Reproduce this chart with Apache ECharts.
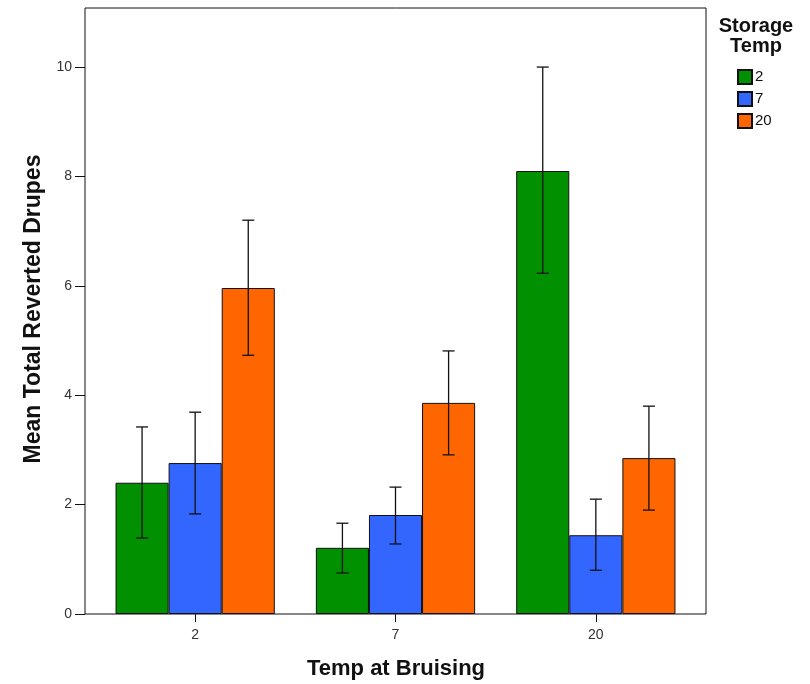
<!DOCTYPE html>
<html><head><meta charset="utf-8">
<script src="https://cdn.jsdelivr.net/npm/echarts@6/dist/echarts.min.js"></script>
<style>html,body{margin:0;padding:0;background:#fff}#c{width:810px;height:684px}</style>
</head><body><div id="c"></div>
<script>
const categories = ['2', '7', '20'];
const seriesNames = ['2', '7', '20'];
const means2 = [2.40, 1.21, 8.10];
const means7 = [2.76, 1.81, 1.44];
const means20 = [5.96, 3.86, 2.85];
const low2 = [1.39, 0.75, 6.23];
const high2 = [3.42, 1.66, 10.0];
const low7 = [1.83, 1.28, 0.80];
const high7 = [3.69, 2.32, 2.10];
const low20 = [4.73, 2.91, 1.90];
const high20 = [7.20, 4.81, 3.80];
const yTicks = [0, 2, 4, 6, 8, 10];

const colors = ['#009000', '#3366ff', '#ff6600'];
const means = [means2, means7, means20];
const lows = [low2, low7, low20];
const highs = [high2, high7, high20];
const catGap = 0.205;

const chart = echarts.init(document.getElementById('c'));
const font = 'Liberation Sans, Arial, sans-serif';

const series = [];
seriesNames.forEach((n, j) => {
  series.push({
    name: n, type: 'bar', data: means[j],
    barGap: '0%', barCategoryGap: (catGap * 100) + '%',
    itemStyle: { color: colors[j], borderColor: '#111', borderWidth: 1 },
    emphasis: { disabled: true }, z: 2
  });
});
seriesNames.forEach((n, j) => {
  series.push({
    type: 'custom', z: 5, silent: true,
    data: categories.map((c, i) => [i, lows[j][i], highs[j][i]]),
    renderItem: function (params, api) {
      const i = api.value(0);
      const catW = api.size([1, 0])[0];
      const bw = catW * (1 - catGap) / 3;
      const cx = api.coord([i, 0])[0] + (j - 1) * bw;
      const yl = api.coord([i, api.value(1)])[1];
      const yh = api.coord([i, api.value(2)])[1];
      const cap = 6;
      const st = { stroke: '#111', lineWidth: 1.3 };
      return { type: 'group', children: [
        { type: 'line', shape: { x1: cx, y1: yl, x2: cx, y2: yh }, style: st },
        { type: 'line', shape: { x1: cx - cap, y1: yl, x2: cx + cap, y2: yl }, style: st },
        { type: 'line', shape: { x1: cx - cap, y1: yh, x2: cx + cap, y2: yh }, style: st }
      ]};
    }
  });
});

chart.setOption({
  animation: false,
  grid: { left: 95, right: 114, top: 8, bottom: 70 },
  xAxis: {
    type: 'category', data: categories,
    axisLine: { show: false },
    axisTick: { show: true, alignWithLabel: true, length: 8, lineStyle: { color: '#111' } },
    axisLabel: { color: '#333', fontSize: 14, fontFamily: font, margin: 14 },
    splitLine: { show: false }
  },
  yAxis: {
    type: 'value', min: 0, max: 11.08, offset: 10,
    axisLine: { show: false },
    axisTick: { show: true, length: 10, lineStyle: { color: '#111' }, customValues: yTicks },
    axisLabel: { color: '#333', fontSize: 14, fontFamily: font, margin: 13, customValues: yTicks },
    splitLine: { show: false }
  },
  legend: {
    data: seriesNames, orient: 'vertical', left: 737, top: 69,
    itemWidth: 14, itemHeight: 14, itemGap: 6, icon: 'rect',
    textStyle: { fontSize: 15, fontFamily: font, color: '#111', padding: [0, 0, 0, -2] },
    selectedMode: false, padding: 0
  },
  graphic: [
    { type: 'rect', shape: { x: 85, y: 8, width: 621, height: 606 }, style: { fill: 'none', stroke: '#111', lineWidth: 1 }, z: 10, silent: true },
    { type: 'text', x: 756, y: 16, style: { text: 'Storage\nTemp', font: 'bold 20px ' + font, fill: '#111', textAlign: 'center', lineHeight: 20 } },
    { type: 'text', x: 396, y: 669, style: { text: 'Temp at Bruising', font: 'bold 22px ' + font, fill: '#111', textAlign: 'center', textVerticalAlign: 'middle' } },
    { type: 'text', x: 34, y: 309, rotation: Math.PI / 2, style: { text: 'Mean Total Reverted Drupes', font: 'bold 23px ' + font, fill: '#111', textAlign: 'center', textVerticalAlign: 'middle' } }
  ],
  series: series
});
</script></body></html>
